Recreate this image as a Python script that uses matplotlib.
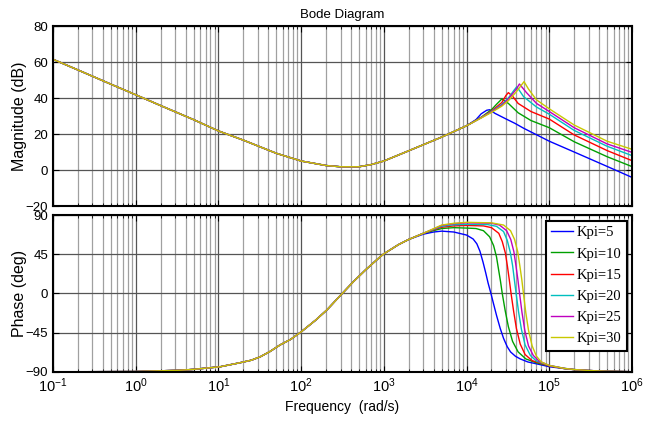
import matplotlib
matplotlib.use("Agg")
import matplotlib.pyplot as plt
from matplotlib.ticker import LogLocator, NullFormatter

# Shared part of the curves (all six overlap here)
freq_mag_low = [0.1, 0.2, 0.5, 1, 2, 5, 10, 20, 50, 100, 200, 300, 500, 700, 1000, 2000, 5000, 10000]
mag_low = [61.5, 55.6, 47.7, 41.8, 35.8, 28.0, 21.7, 16.6, 9.3, 5.0, 2.5, 1.8, 1.8, 3.0, 5.0, 10.7, 18.3, 24.6]

freq_ph_low = [0.1, 1, 3.4, 5, 10.5, 18, 25, 32, 42, 55.6, 75, 100, 150, 204, 300, 428, 600, 900,
               1000, 1500, 2000]
phase_low = [-89.8, -89.5, -88, -87, -84, -79.5, -76.5, -72.6, -66.5, -59, -52.5, -44, -30.5, -19,
             -2, 13.5, 27, 42, 45.5, 56, 62]

labels = ["Kpi=5", "Kpi=10", "Kpi=15", "Kpi=20", "Kpi=25", "Kpi=30"]
colors = ["#0000ff", "#00a000", "#ff0000", "#00bfbf", "#bf00bf", "#c8c800"]

# Magnitude above 1e4 rad/s, per Kpi
mag_freq = [
    [1.3e4, 1.5e4, 1.75e4, 1.9e4, 2.2e4, 2.9e4, 3.85e4, 4.9e4, 1e5, 2e5, 5e5, 1e6],
    [1.5e4, 2.0e4, 2.3e4, 2.67e4, 3.2e4, 4.2e4, 6e4, 1e5, 2e5, 5e5, 1e6],
    [1.5e4, 2.0e4, 2.67e4, 3.0e4, 3.2e4, 3.6e4, 4.2e4, 6e4, 1e5, 2e5, 5e5, 1e6],
    [1.5e4, 2.0e4, 2.67e4, 3.2e4, 3.7e4, 4.05e4, 4.9e4, 7e4, 1e5, 2e5, 5e5, 1e6],
    [1.5e4, 2.0e4, 2.67e4, 3.2e4, 4.0e4, 4.35e4, 5.3e4, 7e4, 1e5, 2e5, 5e5, 1e6],
    [1.5e4, 2.0e4, 2.67e4, 3.2e4, 4.0e4, 4.95e4, 5.6e4, 7e4, 1e5, 2e5, 5e5, 1e6],
]
mag_vals = [
    [28.0, 31.2, 33.2, 33.5, 31.5, 28.7, 25.9, 23.2, 16.0, 10.0, 2.0, -4.1],
    [29.3, 33.5, 36.5, 39.5, 37.0, 31.8, 27.5, 23.5, 15.7, 7.4, 1.9],
    [29.2, 32.8, 37.5, 41.5, 43.0, 41.0, 37.0, 32.5, 28.3, 19.5, 10.8, 5.2],
    [29.1, 32.5, 36.5, 40.0, 44.0, 46.3, 40.7, 35.0, 31.0, 22.0, 13.2, 8.0],
    [29.0, 32.3, 36.0, 39.5, 45.0, 47.8, 43.0, 37.0, 32.5, 23.5, 14.5, 9.8],
    [28.9, 32.0, 35.5, 38.5, 43.5, 49.1, 45.0, 39.0, 34.0, 25.0, 16.0, 11.5],
]

# Phase above 2e3 rad/s, per Kpi
ph_freq = [
    [3e3, 4e3, 5e3, 7e3, 1e4, 1.2e4, 1.33e4, 1.45e4, 1.58e4, 1.7e4, 1.82e4, 1.97e4, 2.12e4, 2.3e4,
     2.55e4, 2.8e4, 3.1e4, 3.4e4, 3.9e4, 4.45e4, 5.5e4, 7.7e4, 1e5, 1.5e5, 2e5, 3e5, 5e5, 1e6],
    [3e3, 5e3, 7e3, 1e4, 1.3e4, 1.6e4, 1.9e4, 2.12e4, 2.3e4, 2.43e4, 2.57e4, 2.7e4, 2.92e4, 3.2e4,
     3.6e4, 4.2e4, 5.2e4, 7e4, 1e5, 1.5e5, 2e5, 3e5, 5e5, 1e6],
    [3e3, 5e3, 7e3, 1e4, 1.6e4, 2.0e4, 2.45e4, 2.7e4, 2.95e4, 3.12e4, 3.28e4, 3.45e4, 3.7e4, 4.0e4,
     4.45e4, 5.1e4, 6.2e4, 1e5, 1.5e5, 2e5, 3e5, 5e5, 1e6],
    [3e3, 5e3, 7e3, 1e4, 1.8e4, 2.3e4, 2.8e4, 3.1e4, 3.38e4, 3.6e4, 3.78e4, 3.97e4, 4.25e4, 4.6e4,
     5.1e4, 5.9e4, 7e4, 1e5, 1.5e5, 2e5, 3e5, 5e5, 1e6],
    [3e3, 5e3, 7e3, 1e4, 2e4, 2.5e4, 3.05e4, 3.42e4, 3.73e4, 3.95e4, 4.17e4, 4.37e4, 4.68e4, 5.05e4,
     5.6e4, 6.4e4, 7.5e4, 1e5, 1.5e5, 2e5, 3e5, 5e5, 1e6],
    [3e3, 5e3, 7e3, 1e4, 2e4, 2.8e4, 3.4e4, 3.8e4, 4.15e4, 4.4e4, 4.65e4, 4.87e4, 5.2e4, 5.6e4,
     6.2e4, 7e4, 8e4, 1e5, 1.5e5, 2e5, 3e5, 5e5, 1e6],
]
ph_vals = [
    [68, 70.5, 71.5, 70.5, 67, 62.5, 57, 48.5, 36, 24, 12, 0, -12, -25,
     -40, -51.5, -61, -67, -72, -75, -78.5, -81.5, -84, -86, -87.3, -88.3, -89.2, -89.7],
    [69, 74.5, 75.5, 75, 74.5, 72, 65, 55, 42, 28, 14, 0, -19, -38,
     -55, -67, -75, -79.5, -83, -86, -87.3, -88.3, -89.2, -89.7],
    [69, 76, 77.5, 78, 77.5, 75.5, 69, 59.5, 46, 31, 16, 0, -20, -40,
     -58, -70, -77, -83, -86, -87.3, -88.3, -89.2, -89.7],
    [69, 77, 78.8, 79.3, 79, 77, 71, 61, 47, 32, 16, 0, -21, -41,
     -59, -71, -77.5, -82.5, -85.8, -87.2, -88.3, -89.2, -89.7],
    [69, 78, 80, 81, 80.5, 78.5, 72, 62, 48, 32, 16, 0, -22, -42,
     -60, -71, -77.5, -82.5, -85.8, -87.2, -88.3, -89.2, -89.7],
    [69, 78.5, 80.5, 81.6, 81, 78.5, 72, 62, 48, 32, 16, 0, -22, -42,
     -60, -72, -78.5, -82.5, -85.8, -87.2, -88.3, -89.2, -89.7],
]

plt.rcParams["font.family"] = ["Liberation Sans"]
plt.rcParams["mathtext.default"] = "regular"

fig = plt.figure(figsize=(6.6, 4.26), dpi=100)
ax1 = fig.add_axes([0.0803, 0.5164, 0.8773, 0.4225])
ax2 = fig.add_axes([0.0803, 0.1268, 0.8773, 0.3685])

for i, lab in enumerate(labels):
    ax1.plot(freq_mag_low + mag_freq[i], mag_low + mag_vals[i], color=colors[i], lw=1.0)
    ax2.plot(freq_ph_low + ph_freq[i], phase_low + ph_vals[i], color=colors[i], lw=1.0, label=lab)

for ax in (ax1, ax2):
    ax.set_xscale("log")
    ax.set_xlim(1e-1, 1e6)
    ax.xaxis.set_major_locator(LogLocator(base=10, numticks=20))
    ax.xaxis.set_minor_locator(LogLocator(base=10, subs=range(2, 10), numticks=20))
    ax.xaxis.set_minor_formatter(NullFormatter())
    ax.grid(which="major", color="#555555", lw=0.9)
    ax.grid(which="minor", axis="x", color="#a0a0a0", lw=0.9)
    ax.tick_params(which="both", direction="in", top=True, right=True)
    ax.tick_params(axis="y", labelsize=9.5)
    ax.tick_params(axis="x", labelsize=10.5)
    ax.tick_params(which="major", length=4)
    ax.tick_params(which="minor", length=2)
    for s in ax.spines.values():
        s.set_linewidth(1.5)
    ax.set_axisbelow(True)

ax1.set_ylim(-20, 80)
ax1.set_yticks([-20, 0, 20, 40, 60, 80])
ax1.tick_params(labelbottom=False)
ax1.set_ylabel("Magnitude (dB)", fontsize=11.5, labelpad=-1)
ax1.set_title("Bode Diagram", fontsize=9.5, pad=6)

ax2.set_ylim(-90, 90)
ax2.set_yticks([-90, -45, 0, 45, 90])
ax2.set_ylabel("Phase (deg)", fontsize=11.5, labelpad=-1)
ax2.set_xlabel("Frequency  (rad/s)", fontsize=10, labelpad=3)

leg = ax2.legend(loc="upper right", bbox_to_anchor=(0.991, 0.962), borderaxespad=0,
                 prop={"family": "Liberation Serif", "size": 10.5}, handlelength=1.5,
                 handletextpad=0.25, labelspacing=0.55, borderpad=0.35,
                 fancybox=False, framealpha=1, edgecolor="black")
leg.get_frame().set_linewidth(1.5)

fig.savefig("out.png", dpi=100)
